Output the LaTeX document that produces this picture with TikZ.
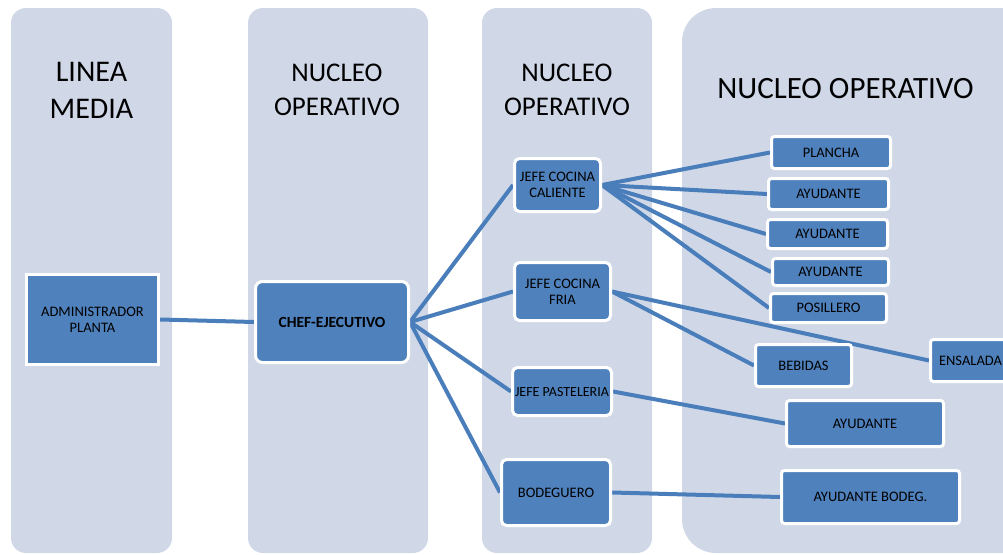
\documentclass[tikz,border=0pt]{standalone}
\usepackage{fontspec}
\setmainfont{Carlito}
\pgfdeclarelayer{panels}
\pgfdeclarelayer{links}
\pgfsetlayers{panels,links,main}
\definecolor{panelblue}{HTML}{D0D8E8}
\definecolor{boxblue}{HTML}{4F81BD}
\definecolor{linkblue}{HTML}{4A7EBB}
\tikzset{
  panel/.style={fill=panelblue},
  title/.style={inner sep=0pt, align=center, text=black},
  unit/.style={fill=boxblue, draw=white, line width=3pt, inner sep=0pt,
    align=center, text=black, font=\fontsize{14.5}{16}\selectfont},
  link/.style={draw=linkblue, line width=4pt},
}
\begin{document}
\begin{tikzpicture}[x=1pt,y=-1pt]
\useasboundingbox (0,0) rectangle (1003,554);

% column panels
\begin{pgfonlayer}{panels}
  \fill[panel, rounded corners=15pt] (11,8) rectangle (172,553);
  \fill[panel, rounded corners=15pt] (248,8) rectangle (428,553);
  \fill[panel, rounded corners=15pt] (482,8) rectangle (652,553);
  \fill[panel, rounded corners=34pt] (682,8) rectangle (1045,553);
\end{pgfonlayer}

% column headings
\node[title, font=\fontsize{30}{37}\selectfont] (h1) at (91.5,90.5) {LINEA\\MEDIA};
\node[title, font=\fontsize{27}{34}\selectfont] (h2) at (337,90) {NUCLEO\\OPERATIVO};
\node[title, font=\fontsize{27}{34}\selectfont] (h3) at (567,90) {NUCLEO\\OPERATIVO};
\node[title, font=\fontsize{31}{36}\selectfont] (h4) at (845.5,89) {NUCLEO OPERATIVO};

% units
\node[unit, minimum width=132pt, minimum height=90pt] (admin) at (92.5,319.5) {ADMINISTRADOR\\PLANTA};
\node[unit, rounded corners=7pt, minimum width=153pt, minimum height=81pt,
      font=\fontsize{15.5}{17}\selectfont\bfseries] (chef) at (332,322) {CHEF-EJECUTIVO};

\node[unit, rounded corners=5pt, minimum width=86pt, minimum height=53pt] (caliente) at (557.5,185) {JEFE COCINA\\CALIENTE};
\node[unit, rounded corners=5pt, minimum width=96pt, minimum height=58pt] (fria) at (562.5,291.5) {JEFE COCINA\\FRIA};
\node[unit, rounded corners=5pt, minimum width=99pt, minimum height=48pt,
      font=\fontsize{14}{16}\selectfont] (pasteleria) at (562,391.5) {JEFE PASTELERIA};
\node[unit, rounded corners=5pt, minimum width=109pt, minimum height=66pt] (bodeguero) at (556,492.5) {BODEGUERO};

\node[unit, rounded corners=3pt, minimum width=119pt, minimum height=32pt] (plancha) at (831,152.5) {PLANCHA};
\node[unit, rounded corners=3pt, minimum width=120pt, minimum height=31pt] (ayuA) at (828.5,194) {AYUDANTE};
\node[unit, rounded corners=3pt, minimum width=120pt, minimum height=29pt] (ayuB) at (827.5,234) {AYUDANTE};
\node[unit, rounded corners=3pt, minimum width=116pt, minimum height=27pt] (ayuC) at (830.5,272) {AYUDANTE};
\node[unit, rounded corners=3pt, minimum width=116pt, minimum height=29pt] (posillero) at (828.5,308) {POSILLERO};
\node[unit, rounded corners=3pt, minimum width=96pt, minimum height=42pt] (bebidas) at (803.5,365.5) {BEBIDAS};
\node[unit, rounded corners=3pt, minimum width=80pt, minimum height=42pt] (ensalada) at (970.5,360.5) {ENSALADA};
\node[unit, rounded corners=3pt, minimum width=157pt, minimum height=46pt] (ayuP) at (865,423.5) {AYUDANTE};
\node[unit, rounded corners=3pt, minimum width=178pt, minimum height=53pt] (ayuBod) at (870.5,497) {AYUDANTE BODEG.};

% reporting lines
\begin{pgfonlayer}{links}
  \draw[link] (admin.east) -- (chef.west);
  \foreach \t in {caliente,fria,pasteleria,bodeguero}
    \draw[link] (chef.east) -- (\t.west);
  \foreach \t in {plancha,ayuA,ayuB,ayuC,posillero}
    \draw[link] (caliente.east) -- (\t.west);
  \draw[link] (fria.east) -- (bebidas.west);
  \draw[link] (fria.east) -- (ensalada.west);
  \draw[link] (pasteleria.east) -- (ayuP.west);
  \draw[link] (bodeguero.east) -- (ayuBod.west);
\end{pgfonlayer}
\end{tikzpicture}
\end{document}
